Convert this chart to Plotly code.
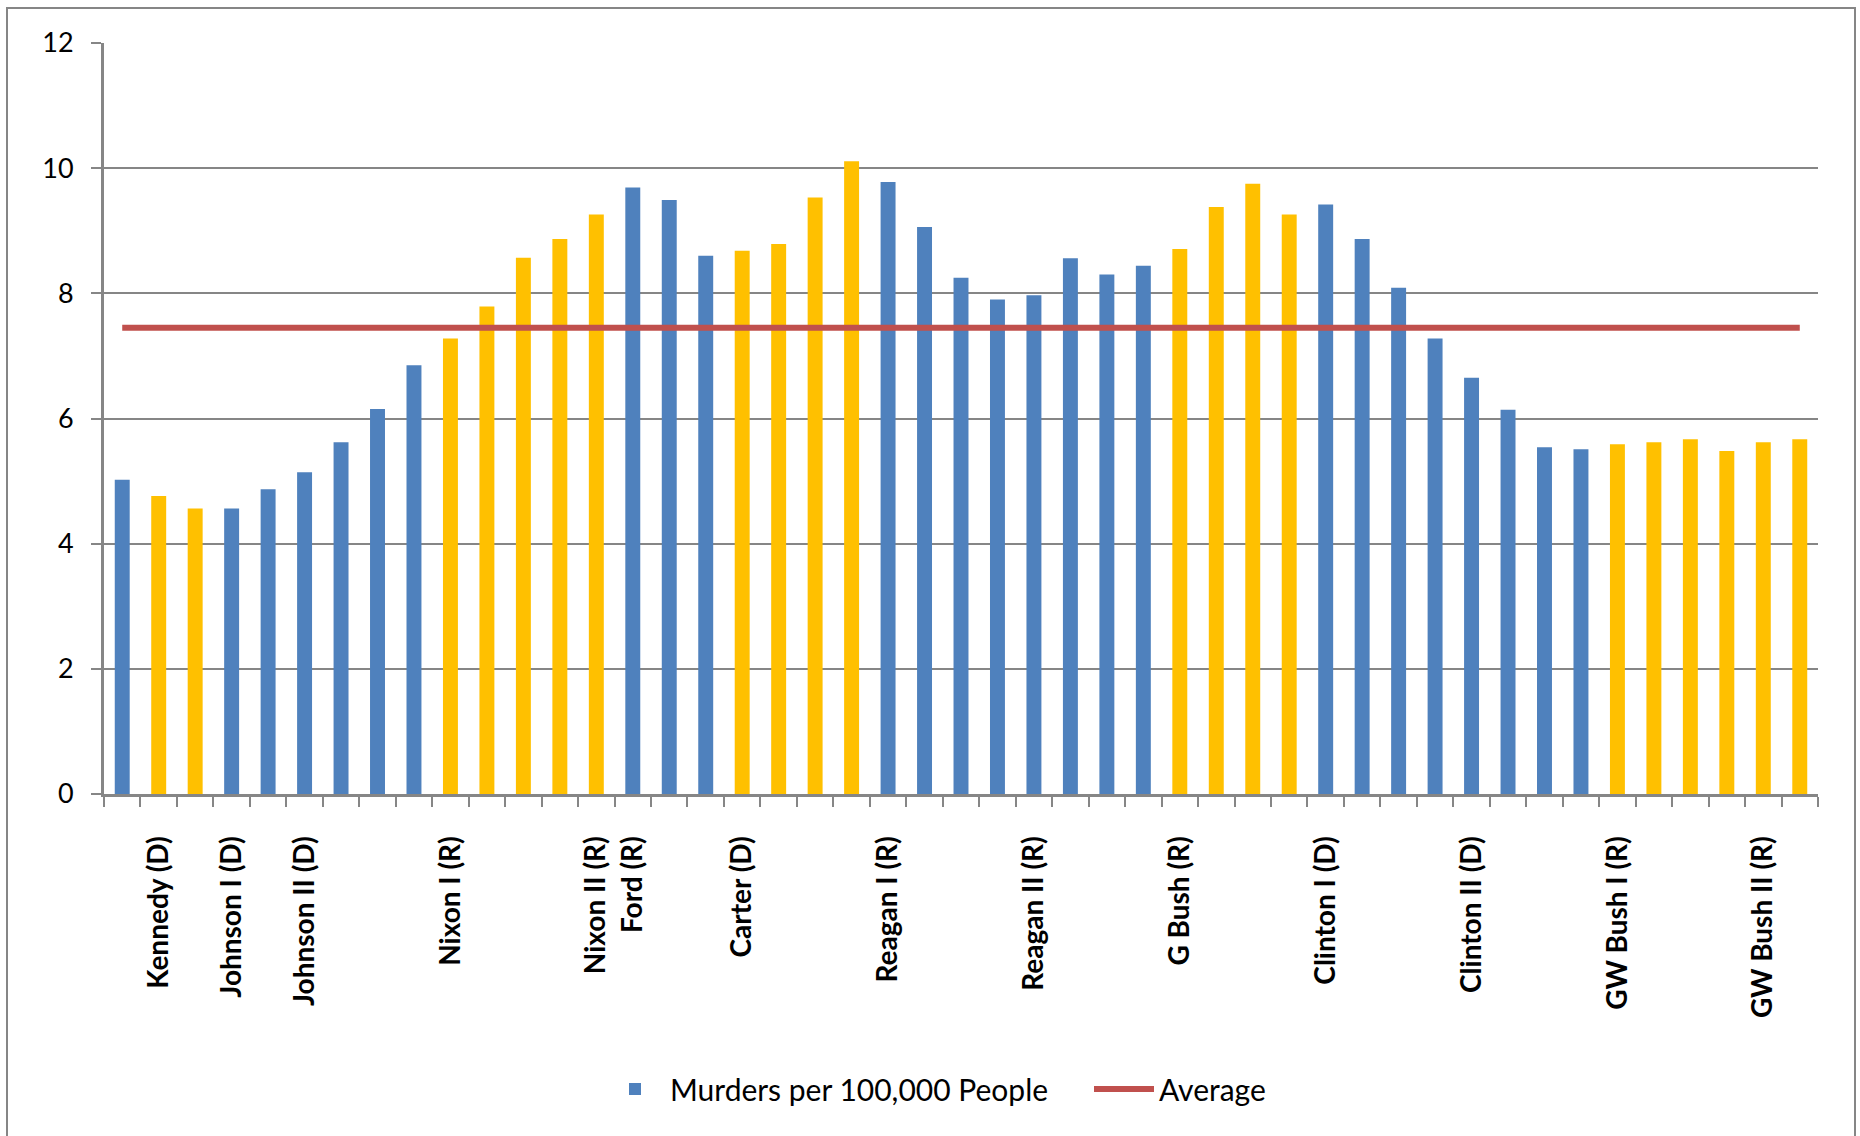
import plotly.graph_objects as go

# ---- data ----
years = list(range(1960, 2007))
murder_rates = [5.02, 4.76, 4.56, 4.56, 4.87, 5.14, 5.62, 6.15, 6.85, 7.28,
                7.79, 8.57, 8.87, 9.26, 9.69, 9.49, 8.60, 8.68, 8.79, 9.53,
                10.11, 9.78, 9.06, 8.25, 7.90, 7.97, 8.56, 8.30, 8.44, 8.71,
                9.38, 9.75, 9.26, 9.42, 8.87, 8.09, 7.28, 6.65, 6.14, 5.54,
                5.51, 5.59, 5.62, 5.67, 5.48, 5.62, 5.67]
bar_party = ["B", "Y", "Y", "B", "B", "B", "B", "B", "B", "Y",
             "Y", "Y", "Y", "Y", "B", "B", "B", "Y", "Y", "Y",
             "Y", "B", "B", "B", "B", "B", "B", "B", "B", "Y",
             "Y", "Y", "Y", "B", "B", "B", "B", "B", "B", "B",
             "B", "Y", "Y", "Y", "Y", "Y", "Y"]
average_rate = 7.45

label_positions = [1961, 1963, 1965, 1969, 1973.5, 1977, 1981, 1985,
                   1989, 1993, 1997, 2001, 2005]
label_texts = ["Kennedy (D)", "Johnson I (D)", "Johnson II (D)", "Nixon I (R)",
               "Nixon II (R)<br>Ford (R)", "Carter (D)", "Reagan I (R)",
               "Reagan II (R)", "G Bush (R)", "Clinton I (D)", "Clinton II (D)",
               "GW Bush I (R)", "GW Bush II (R)"]
y_ticks = [0, 2, 4, 6, 8, 10, 12]

# ---- styling ----
BLUE = "#4F81BD"
YELLOW = "#FFC000"
RED = "#C0504D"
GRAY = "#868686"
FONT = "Lato"
palette = {"B": BLUE, "Y": YELLOW}
bar_colors = [palette[p] for p in bar_party]

W, H = 1860, 1136
ML, MR, MT, MB = 104, 42, 43, 342

fig = go.Figure()
fig.add_trace(go.Bar(
    x=years, y=murder_rates, name="Murders per 100,000 People",
    marker=dict(color=bar_colors, line=dict(width=0)),
))
fig.add_trace(go.Scatter(
    x=years, y=[average_rate] * len(years), name="Average",
    mode="lines", line=dict(color=RED, width=6),
))

# chart-area border (Excel-like frame)
pw = W - ML - MR
ph = H - MT - MB
def px_x(p):
    return (p - ML) / pw
def px_y(p):
    return (H - MB - p) / ph

fig.add_shape(type="rect", xref="paper", yref="paper",
              x0=px_x(7), x1=px_x(1855), y0=px_y(1150), y1=px_y(8),
              line=dict(color=GRAY, width=2), fillcolor="rgba(0,0,0,0)",
              layer="below")

fig.update_layout(
    width=W, height=H,
    margin=dict(l=ML, r=MR, t=MT, b=MB, autoexpand=False),
    paper_bgcolor="white", plot_bgcolor="white",
    font=dict(family=FONT, size=27, color="black"),
    bargap=0.59,
    showlegend=True,
    legend=dict(orientation="h", xref="container", yref="container",
                x=600 / W, xanchor="left", y=1 - 1089 / H, yanchor="middle",
                font=dict(family=FONT, size=30, color="black"),
                itemwidth=60, entrywidth=414, entrywidthmode="pixels",
                tracegroupgap=0, traceorder="normal"),
)

fig.update_xaxes(
    range=[years[0] - 0.5, years[-1] + 0.5],
    tickmode="array", tickvals=label_positions, ticktext=label_texts,
    tickangle=-90, ticks="", ticklabelstandoff=28,
    tickfont=dict(family=FONT, size=28, color="black", weight="bold"),
    showgrid=False, zeroline=False,
    showline=True, linecolor=GRAY, linewidth=3,
    minor=dict(tick0=years[0] - 0.5, dtick=1, ticks="outside",
               ticklen=10, tickwidth=2, tickcolor=GRAY, showgrid=False),
)
fig.update_yaxes(
    range=[0, 12], tickmode="array", tickvals=y_ticks,
    ticks="outside", ticklen=10, tickwidth=2, tickcolor=GRAY,
    ticklabelstandoff=12,
    tickfont=dict(family=FONT, size=27, color="black"),
    showgrid=True, gridcolor=GRAY, gridwidth=2,
    zeroline=False, showline=True, linecolor=GRAY, linewidth=3,
)

fig.write_html(
    "out.html",
    config={"displayModeBar": False},
    post_script="document.body.style.margin='0';document.body.style.overflow='hidden';",
)
